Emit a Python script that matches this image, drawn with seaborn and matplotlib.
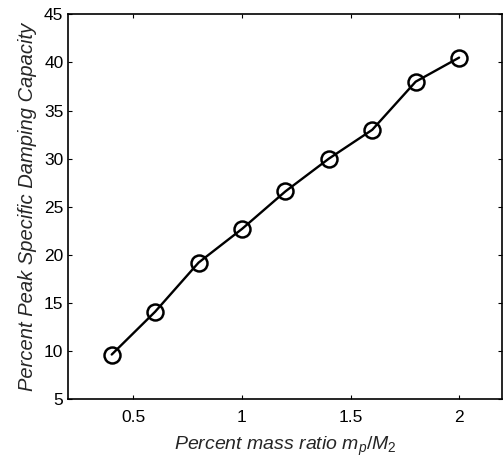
import matplotlib
matplotlib.use("Agg")
import matplotlib.pyplot as plt
import seaborn as sns
import pandas as pd

mass_ratio = [0.4, 0.6, 0.8, 1.0, 1.2, 1.4, 1.6, 1.8, 2.0]
damping = [9.65, 14.1, 19.2, 22.7, 26.6, 30.0, 33.0, 38.0, 40.5]
x_ticks = [0.5, 1, 1.5, 2]
x_tick_labels = ["0.5", "1", "1.5", "2"]
y_ticks = [5, 10, 15, 20, 25, 30, 35, 40, 45]

sns.set_style("ticks")
plt.rcParams['font.family'] = ['Liberation Sans', 'DejaVu Sans']
plt.rcParams['mathtext.fontset'] = 'custom'
plt.rcParams['mathtext.rm'] = 'Liberation Sans'
plt.rcParams['mathtext.it'] = 'Liberation Sans:italic'

df = pd.DataFrame({"x": mass_ratio, "y": damping})

fig = plt.figure(figsize=(5.03, 4.62), dpi=100)
ax = fig.add_axes([68.3/503, 62.7/462, (502.5-68.3)/503, (399.3-14.3)/462])

sns.lineplot(data=df, x="x", y="y", ax=ax, color="black", linewidth=1.7,
             marker="o", markersize=11.5, markerfacecolor="none",
             markeredgecolor="black", markeredgewidth=1.8)

ax.set_xlim(0.2, 2.2)
ax.set_ylim(5, 45)
ax.set_xticks(x_ticks)
ax.set_xticklabels(x_tick_labels)
ax.set_yticks(y_ticks)
for s in ax.spines.values():
    s.set_visible(True)
    s.set_linewidth(1.2)
    s.set_color("black")
ax.tick_params(direction="in", length=3, width=0.8, top=True, right=True,
               labelsize=12.5, colors="black")
ax.tick_params(axis="x", pad=8)
ax.tick_params(axis="y", pad=3.5)
ax.set_xlabel(r"Percent mass ratio $m_p/M_2$", fontsize=14, style="italic", labelpad=7)
ax.set_ylabel("Percent Peak Specific Damping Capacity", fontsize=14.5, style="italic", labelpad=5)

fig.savefig("out.png", dpi=100)
